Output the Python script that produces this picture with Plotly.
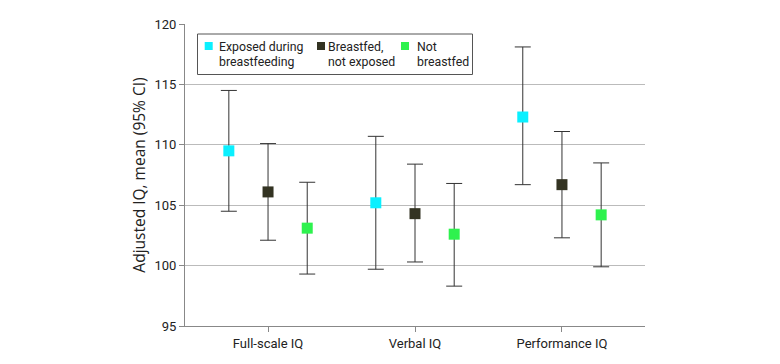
import plotly.graph_objects as go

categories = ["Full-scale IQ", "Verbal IQ", "Performance IQ"]
groups = ["Exposed during<br>breastfeeding", "Breastfed,<br>not exposed", "Not<br>breastfed"]
colors = ["#0AF0FF", "#333322", "#2EF24E"]

means = [
    [109.5, 105.2, 112.3],
    [106.1, 104.3, 106.7],
    [103.1, 102.6, 104.2],
]
upper = [
    [114.5, 110.7, 118.1],
    [110.1, 108.4, 111.1],
    [106.9, 106.8, 108.5],
]
lower = [
    [104.5, 99.7, 106.7],
    [102.1, 100.3, 102.3],
    [99.3, 98.3, 99.9],
]

FONT = "Roboto"
TXT = "#222222"

# plot area in pixels (used only to place the hand-built legend box)
L, R, T, B = 185, 135, 24, 38
W, H = 780, 364
PW, PH = W - L - R, H - T - B


def px(xp):
    return (xp - L) / PW


def py(yp):
    return (H - B - yp) / PH


fig = go.Figure()
for g, name in enumerate(groups):
    fig.add_trace(go.Scatter(
        x=categories,
        y=means[g],
        mode="markers",
        name=name.replace("<br>", " "),
        showlegend=False,
        marker=dict(symbol="square", size=11, color=colors[g]),
        error_y=dict(
            type="data",
            symmetric=False,
            array=[u - m for u, m in zip(upper[g], means[g])],
            arrayminus=[m - l for m, l in zip(means[g], lower[g])],
            color="#333333",
            thickness=1,
            width=8,
        ),
    ))

# legend (box, swatches, two-line labels)
shapes = [dict(type="rect", xref="paper", yref="paper",
               x0=px(197.5), x1=px(472.5), y0=py(74.5), y1=py(34),
               line=dict(color="#555555", width=1), fillcolor="white", layer="above")]
annotations = []
swatch_x = [208.7, 321, 405]
text_x = [217, 325.5, 414.5]
for g, name in enumerate(groups):
    cx, cy = swatch_x[g], 46
    shapes.append(dict(type="rect", xref="paper", yref="paper",
                       x0=px(cx - 4), x1=px(cx + 4), y0=py(cy + 4), y1=py(cy - 4),
                       line=dict(width=0), fillcolor=colors[g], layer="above"))
    for i, line in enumerate(name.split("<br>")):
        annotations.append(dict(xref="paper", yref="paper", x=px(text_x[g]), y=py(47.3 + 15 * i),
                                xanchor="left", yanchor="middle", showarrow=False,
                                text=line, font=dict(family=FONT, size=12.3, color=TXT)))

fig.update_layout(
    width=W, height=H,
    margin=dict(l=L, r=R, t=T, b=B),
    paper_bgcolor="white",
    plot_bgcolor="white",
    scattermode="group",
    scattergap=0.2,
    font=dict(family=FONT, size=13, color=TXT),
    showlegend=False,
    shapes=shapes,
    annotations=annotations,
    xaxis=dict(
        type="category",
        range=[-0.565, 2.565],
        showgrid=False,
        showline=True, linecolor="#888888", linewidth=1,
        ticks="outside", ticklen=5, tickcolor="#888888",
        tickfont=dict(family=FONT, size=13, color=TXT),
        zeroline=False,
    ),
    yaxis=dict(
        range=[95, 120],
        tickvals=[95, 100, 105, 110, 115, 120],
        showgrid=True, gridcolor="#BBBBBB", gridwidth=1,
        showline=True, linecolor="#888888", linewidth=1,
        ticks="outside", ticklen=5, tickcolor="#888888",
        tickfont=dict(family=FONT, size=13, color=TXT),
        title=dict(text="Adjusted IQ, mean (95% CI)",
                   font=dict(family="Open Sans", size=15.5, color=TXT), standoff=5),
        zeroline=False,
    ),
)

fig.write_html("out.html")
